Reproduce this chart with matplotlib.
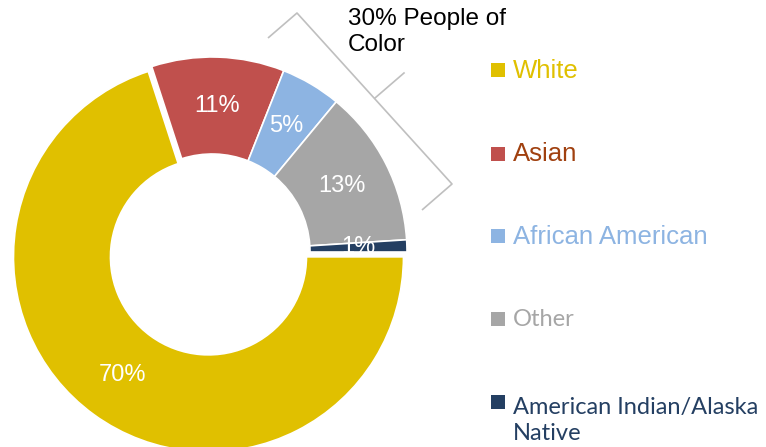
import matplotlib.pyplot as plt

W, H = 766, 447

groups = ["White", "Asian", "African American", "Other", "American Indian/Alaska\nNative"]
shares = [70, 11, 5, 13, 1]
slice_colors = ["#E0C000", "#C0504D", "#8DB4E2", "#A6A6A6", "#243F62"]
text_colors = ["#E0C000", "#A0400F", "#8DB4E2", "#A6A6A6", "#243F62"]
text_fonts = ["Liberation Sans", "Liberation Sans", "Liberation Sans", "Lato", "Lato"]
callout = "30% People of\nColor"

fig = plt.figure(figsize=(W / 100, H / 100), dpi=100)
ax = fig.add_axes([0, 0, 1, 1])

# donut, white slice pulled out a little (pixel units, y flipped)
wedges, texts, pcts = ax.pie(
    shares,
    colors=slice_colors,
    startangle=0,
    counterclock=False,
    radius=195,
    center=(212, H - 252),
    explode=[6, 0, 0, 0, 0],
    autopct="%d%%",
    pctdistance=0.75,
    wedgeprops=dict(width=97, edgecolor="white", linewidth=1.2),
    textprops=dict(color="white", fontsize=17, family="Liberation Sans"),
)

# bracket around the people of color slices
bx = [268, 297, 452, 422]
by = [38, 13, 184, 210]
ax.plot(bx, [H - v for v in by], color="#BFBFBF", lw=1.2, solid_capstyle="butt")
ax.plot([375, 404], [H - 98, H - 73], color="#BFBFBF", lw=1.2)
ax.text(348, H - 8, callout, fontsize=17.5, family="Liberation Sans",
        va="top", ha="left", linespacing=1.25, color="black")

# legend
base = [77.5, 161, 243.5, 326.5, 409]
for name, c, tc, fam, yb in zip(groups, slice_colors, text_colors, text_fonts, base):
    ax.scatter([498], [H - (yb - 7.5)], marker="s", s=100, color=c, linewidths=0)
    # baseline alignment goes by the last line
    extra = name.count("\n") * 31
    ax.text(513, H - yb - extra, name, color=tc, fontsize=18.5 if fam != "Lato" else 17,
            family=fam, va="baseline", ha="left", linespacing=1.3)

ax.set_xlim(0, W)
ax.set_ylim(0, H)
ax.set_aspect("equal")
ax.axis("off")

fig.savefig("out.png", dpi=100)
